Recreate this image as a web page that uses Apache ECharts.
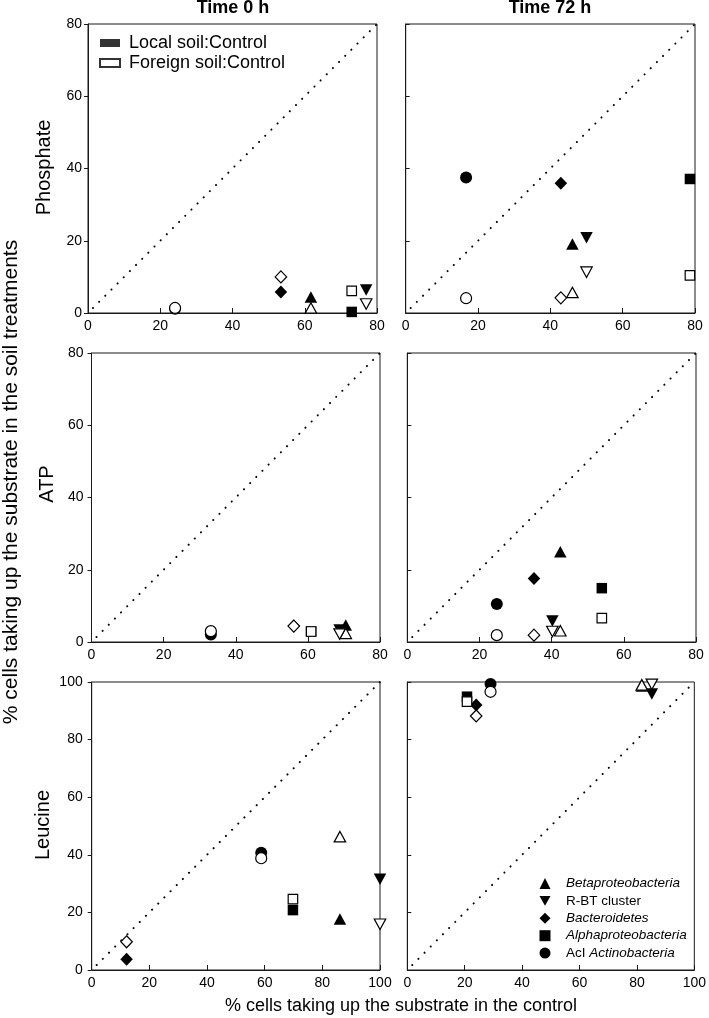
<!DOCTYPE html>
<html><head><meta charset="utf-8">
<script src="https://cdn.jsdelivr.net/npm/echarts@6/dist/echarts.min.js"></script>
<style>html,body{margin:0;padding:0;background:#fff}#c{width:709px;height:1018px}</style>
</head><body><div id="c"></div>
<script>
// ---------- DATA ----------
const taxa = ['Betaproteobacteria', 'R-BT cluster', 'Bacteroidetes', 'Alphaproteobacteria', 'AcI Actinobacteria'];
const groups = ['Local soil:Control', 'Foreign soil:Control'];
const ticks80 = [0, 20, 40, 60, 80];
const ticks100 = [0, 20, 40, 60, 80, 100];
const columnTitles = ['Time 0 h', 'Time 72 h'];
const rowTitles = ['Phosphate', 'ATP', 'Leucine'];
const xTitle = '% cells taking up the substrate in the control';
const yTitle = '% cells taking up the substrate in the soil treatments';

// order of each array follows taxa
const phosphate0Control = [61.7, 77.0, 53.4, 73.0, 24.1];
const phosphate0Local   = [4.4, 6.4, 5.8, 0.3, 1.2];
const phosphate0Foreign = [1.4, 2.5, 10.0, 6.1, 1.4];

const phosphate72Control = [46.1, 50.0, 42.9, 78.6, 16.7];
const phosphate72Local   = [19.1, 20.8, 35.9, 37.1, 37.5];
const phosphate72Foreign = [5.7, 11.3, 4.2, 10.4, 4.1];

const atp0Control = [70.5, 68.8, 56.1, 60.9, 33.1];
const atp0Local   = [4.7, 3.3, 4.4, 2.9, 2.1];
const atp0Foreign = [2.4, 2.2, 4.4, 2.9, 3.0];

const atp72Control = [42.4, 40.2, 35.1, 53.9, 24.8];
const atp72Local   = [25.0, 5.8, 17.6, 14.9, 10.5];
const atp72Foreign = [3.1, 2.9, 1.9, 6.6, 1.9];

const leucine0Control = [86.1, 100, 12.1, 69.8, 58.8];
const leucine0Local   = [17.7, 31.5, 3.7, 20.8, 40.7];
const leucine0Foreign = [46.3, 15.9, 9.8, 24.6, 38.8];

const leucine72Control = [81.7, 85.2, 24.0, 20.8, 29.0];
const leucine72Local   = [98.6, 95.8, 92.0, 94.9, 99.3];
const leucine72Foreign = [99.0, 99.2, 88.2, 93.2, 96.6];

const diag80 = [0, 80];
const diag100 = [0, 100];

// ---------- LAYOUT / STYLE ----------
const FONT = '"Liberation Sans", Arial, sans-serif';
const panels = [
  {control: phosphate0Control, local: phosphate0Local, foreign: phosphate0Foreign, ticks: ticks80, diag: diag80},
  {control: phosphate72Control, local: phosphate72Local, foreign: phosphate72Foreign, ticks: ticks80, diag: diag80},
  {control: atp0Control, local: atp0Local, foreign: atp0Foreign, ticks: ticks80, diag: diag80},
  {control: atp72Control, local: atp72Local, foreign: atp72Foreign, ticks: ticks80, diag: diag80},
  {control: leucine0Control, local: leucine0Local, foreign: leucine0Foreign, ticks: ticks100, diag: diag100},
  {control: leucine72Control, local: leucine72Local, foreign: leucine72Foreign, ticks: ticks100, diag: diag100}
];
const layout = [
  {left: 88, top: 24, width: 289, height: 289, yLabel: true, ym: 6},
  {left: 405.7, top: 24, width: 289.3, height: 289, yLabel: false},
  {left: 91.5, top: 353, width: 288.5, height: 289, yLabel: true, ym: 8},
  {left: 407.3, top: 353, width: 288.7, height: 289, yLabel: false},
  {left: 91.7, top: 682, width: 288.3, height: 288, yLabel: true, ym: 9},
  {left: 407.3, top: 682, width: 288.7, height: 288, yLabel: false}
];
const TRI_DOWN = 'path://M0,0L10,0L5,9Z';
const symbols = [
  {symbol: 'triangle', size: [12.5, 11.5]},
  {symbol: TRI_DOWN, size: [12.5, 11.5]},
  {symbol: 'diamond', size: [12.5, 13]},
  {symbol: 'rect', size: [10.5, 10.5]},
  {symbol: 'circle', size: [12, 12]}
];
const AX = '#1a1a1a';

const grids = [], xAxes = [], yAxes = [], series = [];
layout.forEach((g, i) => {
  const t = panels[i].ticks;
  grids.push({left: g.left, top: g.top, width: g.width, height: g.height,
    show: true, borderColor: AX, borderWidth: 1, backgroundColor: 'transparent'});
  xAxes.push({gridIndex: i, type: 'value', min: t[0], max: t[t.length - 1], interval: t[1] - t[0],
    axisLine: {show: true, lineStyle: {color: AX, width: 1}},
    axisTick: {show: true, inside: true, length: 5, lineStyle: {color: AX}},
    splitLine: {show: false},
    axisLabel: {show: true, margin: 6, fontFamily: FONT, fontSize: 14, color: '#000'}});
  yAxes.push({gridIndex: i, type: 'value', min: t[0], max: t[t.length - 1], interval: t[1] - t[0],
    axisLine: {show: true, lineStyle: {color: AX, width: 1}},
    axisTick: {show: true, inside: !g.yLabel, length: 4, lineStyle: {color: AX}},
    splitLine: {show: false},
    axisLabel: {show: g.yLabel, margin: g.ym || 8, fontFamily: FONT, fontSize: 14, color: '#000'}});
  series.push({type: 'line', xAxisIndex: i, yAxisIndex: i, silent: true, symbol: 'none', z: 1,
    data: [[panels[i].diag[0], panels[i].diag[0]], [panels[i].diag[1], panels[i].diag[1]]],
    lineStyle: {color: '#000', width: 2, type: [0.1, 8.6], dashOffset: 1.7, cap: 'round'}});
});

// filled (Local) first, then open (Foreign) drawn on top
['local', 'foreign'].forEach(kind => {
  panels.forEach((p, i) => {
    taxa.forEach((name, k) => {
      const s = symbols[k];
      const open = kind === 'foreign';
      series.push({
        type: 'scatter', name: name, xAxisIndex: i, yAxisIndex: i, clip: false, silent: true,
        z: open ? 4 : 3,
        symbol: s.symbol,
        symbolSize: open ? [s.size[0] - 1, s.size[1] - 1] : s.size,
        itemStyle: open ? {color: '#fff', borderColor: '#000', borderWidth: 1.2, opacity: 1}
                        : {color: '#000', borderWidth: 0, opacity: 1},
        data: [[p.control[k], p[kind][k]]]
      });
    });
  });
});
// legend-only series for Local/Foreign
series.push({type: 'scatter', name: groups[0], xAxisIndex: 0, yAxisIndex: 0, data: [],
  symbol: 'rect', itemStyle: {color: '#000'}});
series.push({type: 'scatter', name: groups[1], xAxisIndex: 0, yAxisIndex: 0, data: [],
  symbol: 'rect', itemStyle: {color: '#fff', borderColor: '#000', borderWidth: 1}});

const graphic = [];
const colCenters = [233, 550];
columnTitles.forEach((t, i) => graphic.push({type: 'text', x: colCenters[i], y: 8,
  style: {text: t, font: 'bold 18px ' + FONT, fill: '#000', align: 'center', verticalAlign: 'middle',
          textAlign: 'center', textVerticalAlign: 'middle'}}));
const rowPos = [[44, 167.5], [47, 484], [43, 825]];
rowTitles.forEach((t, i) => graphic.push({type: 'text', x: rowPos[i][0], y: rowPos[i][1], rotation: Math.PI / 2,
  style: {text: t, font: '20px ' + FONT, fill: '#000', align: 'center', verticalAlign: 'middle',
          textAlign: 'center', textVerticalAlign: 'middle'}}));
graphic.push({type: 'text', x: 11, y: 482, rotation: Math.PI / 2,
  style: {text: yTitle, font: '21px ' + FONT, fill: '#000', align: 'center', verticalAlign: 'middle',
          textAlign: 'center', textVerticalAlign: 'middle'}});
graphic.push({type: 'text', x: 401, y: 1006,
  style: {text: xTitle, font: '18px ' + FONT, fill: '#000', align: 'center', verticalAlign: 'middle',
          textAlign: 'center', textVerticalAlign: 'middle'}});

const chart = echarts.init(document.getElementById('c'));
chart.setOption({
  animation: false,
  backgroundColor: '#fff',
  grid: grids, xAxis: xAxes, yAxis: yAxes, series: series, graphic: graphic,
  legend: [
    {left: 99, top: 34, padding: 0, orient: 'vertical', itemWidth: 20, itemHeight: 8, itemGap: 2, selectedMode: false,
     data: [{name: groups[0], icon: 'rect'}, {name: groups[1], icon: 'rect'}],
     formatter: '{a|{name}}',
     textStyle: {color: '#000', fontFamily: FONT, fontSize: 18,
       rich: {a: {fontFamily: FONT, fontSize: 18, lineHeight: 18, color: '#000', padding: [0, 0, 0, 4]}}}},
    {left: 539.5, top: 876.5, padding: 0, orient: 'vertical', itemWidth: 11, itemHeight: 11, itemGap: 3.4, selectedMode: false,
     data: taxa,
     formatter: function (n) {
       if (n === 'R-BT cluster') return '{n|' + n + '}';
       if (n === 'AcI Actinobacteria') return '{n|AcI }{j|Actinobacteria}';
       return '{i|' + n + '}';
     },
     textStyle: {color: '#000', fontFamily: FONT, fontSize: 13.5,
       rich: {
         i: {fontStyle: 'italic', fontFamily: FONT, fontSize: 13.5, lineHeight: 13, color: '#000', padding: [0, 0, 0, 10.5]},
         n: {fontFamily: FONT, fontSize: 13.5, lineHeight: 13, color: '#000', padding: [0, 0, 0, 10.5]},
         j: {fontStyle: 'italic', fontFamily: FONT, fontSize: 13.5, lineHeight: 13, color: '#000'}
       }}}
  ]
});
</script></body></html>
